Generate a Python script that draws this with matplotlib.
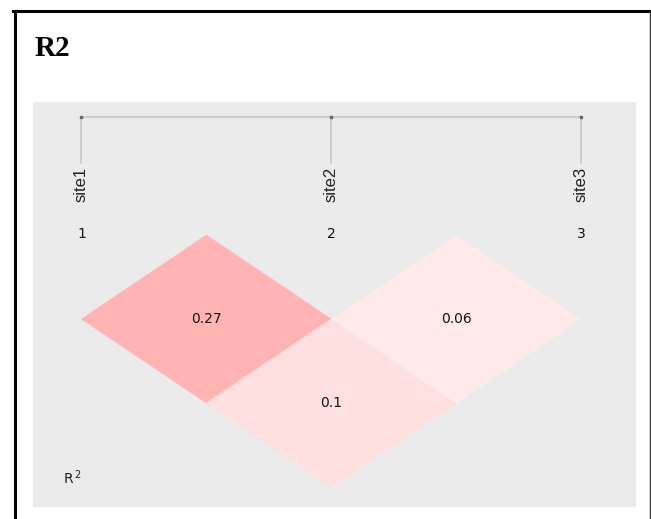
import matplotlib
matplotlib.use("Agg")
import matplotlib.pyplot as plt
from matplotlib.patches import Polygon
from matplotlib.colors import LinearSegmentedColormap, Normalize
from matplotlib.lines import Line2D

# ---- data ----
sites = ["site1", "site2", "site3"]
site_numbers = ["1", "2", "3"]
pair_first = [1, 1, 2]
pair_second = [2, 3, 3]
r2_values = [0.27, 0.1, 0.06]
title = "R2"

W, H = 651, 519
fig = plt.figure(figsize=(W / 100, H / 100), dpi=100)
fig.patch.set_facecolor("white")

# panel in pixels: x 33..636, y 102..507
ax = fig.add_axes([33 / W, 1 - 507 / H, (636 - 33) / W, (507 - 102) / H])
ax.set_facecolor("#ebebeb")
for s in ax.spines.values():
    s.set_visible(False)
ax.set_xticks([])
ax.set_yticks([])
ax.set_xlim(0.806, 3.220)
ax.set_ylim(1.619, -0.792)

cmap = LinearSegmentedColormap.from_list("r2", ["#ffffff", "#ffb3b3"])
norm = Normalize(vmin=-0.02, vmax=max(r2_values))

for i, j, v in zip(pair_first, pair_second, r2_values):
    cx = (i + j) / 2
    cy = (j - i) / 2
    verts = [(cx - 0.5, cy), (cx, cy - 0.5), (cx + 0.5, cy), (cx, cy + 0.5)]
    col = cmap(norm(v))
    ax.add_patch(Polygon(verts, closed=True, facecolor=col, edgecolor=col, linewidth=0.4))
    ax.text(cx, cy, f"{v:g}", ha="center", va="center", fontsize=10,
            family="DejaVu Sans", color="#151515")

n = len(sites)
xs = list(range(1, n + 1))
line_y = -0.702
ax.plot([xs[0], xs[-1]], [line_y, line_y], color="#cccccc", lw=1.6, solid_capstyle="butt")
for k, (x, name, num) in enumerate(zip(xs, sites, site_numbers)):
    ax.plot([x, x], [line_y, -0.429], color="#c8c8c8", lw=1.2)
    ax.plot([x], [line_y], marker="s", ms=1.5, color="#666666", mec="#666666")
    ax.text(x, -0.405, name, rotation=90, ha="center", va="top", fontsize=12,
            family=["Liberation Sans Narrow", "Liberation Sans"], color="#222222")
    ax.text(x, -0.005, num, ha="center", va="center", fontsize=10,
            family="DejaVu Sans", color="#111111")

ax.text(0.926, 1.446, r"R$^{\,2}$", ha="left", va="center", fontsize=10,
        family="DejaVu Sans", color="#222222")

# title
fig.text(35 / W, 1 - 56 / H, title, ha="left", va="baseline", fontsize=21,
         fontweight="bold", family="Liberation Serif", color="black")

# frame lines
fig.add_artist(Line2D([13 / W, 650 / W], [1 - 10.7 / H, 1 - 10.7 / H],
                      transform=fig.transFigure, color="black", lw=2.2))
fig.add_artist(Line2D([14.7 / W, 14.7 / W], [1 - 10.7 / H, 0],
                      transform=fig.transFigure, color="black", lw=2.2))
fig.add_artist(Line2D([650 / W, 650 / W], [1 - 10.7 / H, 0],
                      transform=fig.transFigure, color="#333333", lw=1.0))

fig.savefig("out.png", dpi=100, facecolor="white")
